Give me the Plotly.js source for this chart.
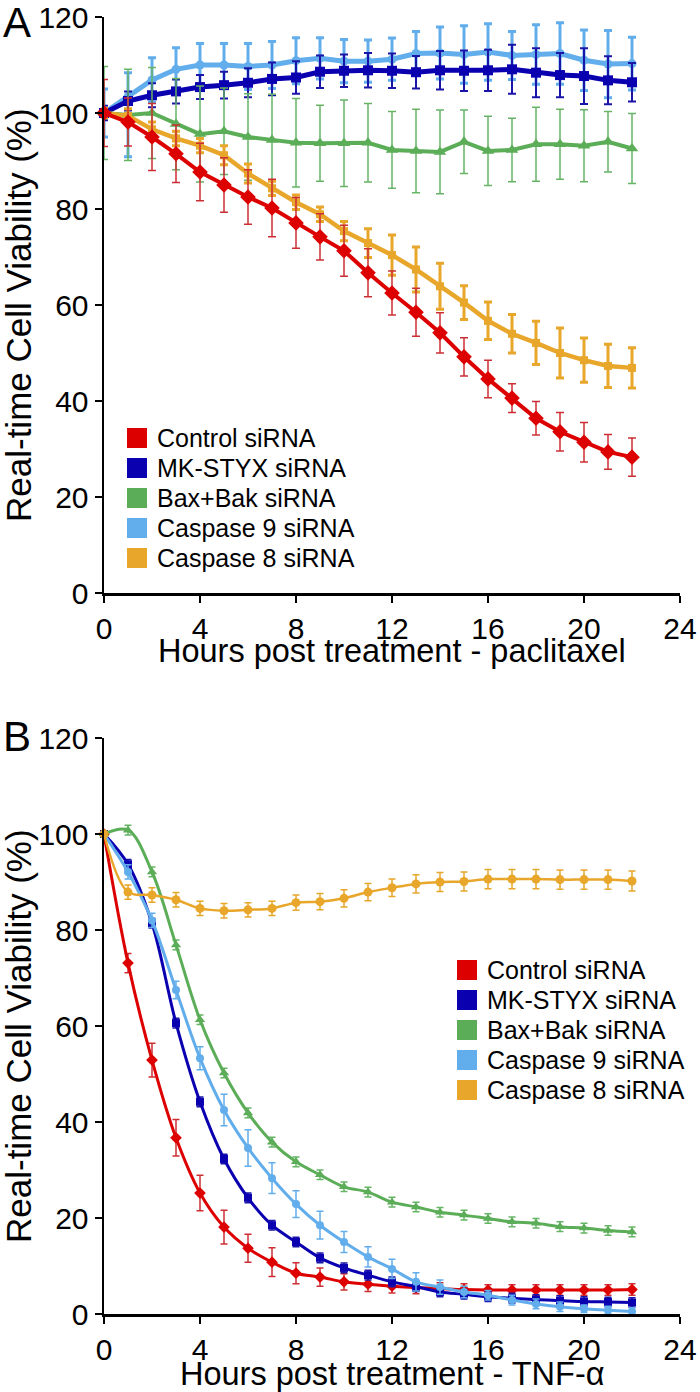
<!DOCTYPE html>
<html>
<head>
<meta charset="utf-8">
<script src="https://cdn.plot.ly/plotly-3.0.1.min.js"></script>
<style>
  html, body { margin: 0; padding: 0; background: #fff; }
  #chart { width: 700px; height: 1392px; }
</style>
</head>
<body>
<div id="chart"></div>
<script>
const hours = [0, 1, 2, 3, 4, 5, 6, 7, 8, 9, 10, 11, 12, 13, 14, 15, 16, 17, 18, 19, 20, 21, 22];
const seriesNames = ['Control siRNA', 'MK-STYX siRNA', 'Bax+Bak siRNA', 'Caspase 9 siRNA', 'Caspase 8 siRNA'];
const xTitles = ['Hours post treatment - paclitaxel', 'Hours post treatment - TNF-α'];
const yTitle = 'Real-time Cell Viability (%)';
const panelLabels = ['A', 'B'];

// panel A - paclitaxel
const ctrlA = [100, 98.1, 95.0, 91.5, 87.7, 85.0, 82.5, 80.2, 77.1, 74.2, 71.3, 66.7, 62.5, 58.5, 54.2, 49.2, 44.6, 40.6, 36.4, 33.6, 31.4, 29.4, 28.3];
const ctrlAErr = [7, 5, 7, 6, 6, 5.7, 5.7, 6, 5.3, 4.8, 5.3, 5, 4.6, 5, 4.2, 4, 3.9, 3, 3.5, 4, 4.1, 3.6, 4];
const mkA = [100, 102.5, 103.7, 104.5, 105.4, 105.8, 106.3, 107.1, 107.4, 108.6, 108.8, 108.9, 108.8, 108.5, 108.9, 108.8, 108.9, 109.1, 108.4, 107.9, 107.7, 106.8, 106.4];
const mkAErr = [1.5, 2, 2.5, 2.5, 2.5, 2.8, 3, 3.4, 3.4, 3.4, 3.4, 3.6, 3.6, 3.4, 4, 4.2, 4.3, 5.1, 5.1, 4.6, 5.8, 5, 4];
const baxA = [100, 99.6, 100, 97.7, 95.6, 96.2, 95, 94.4, 93.8, 93.7, 93.7, 93.8, 92.3, 92.1, 91.9, 94, 92.1, 92.3, 93.5, 93.5, 93.2, 94, 92.6];
const baxAErr = [9.7, 9.5, 9.5, 9.5, 10, 9, 9, 9.5, 9.2, 7.9, 9, 8.2, 8, 8.7, 8.7, 6.6, 7.2, 6.6, 7.7, 7.3, 7.5, 6.3, 7.3];
const casp9A = [100, 103.4, 106.9, 109.1, 110, 110, 109.7, 110, 110.9, 111.4, 110.8, 110.8, 111.2, 112.4, 112.5, 112.2, 112.7, 112, 112.2, 112.4, 111, 110.2, 110.3];
const casp9AErr = [5, 5, 4.6, 4.5, 4.5, 4.5, 4.8, 4.9, 4.8, 4.3, 4.5, 4.4, 4.4, 4.6, 5.4, 6, 5.9, 5, 6.2, 6.4, 6.3, 7, 5.5];
const casp9AErrLow = [5, 12.5, 4.6, 4.5, 4.5, 4.5, 4.8, 4.9, 4.8, 4.3, 4.5, 4.4, 4.4, 4.6, 5.4, 6, 5.9, 5, 6.2, 6.4, 6.3, 7, 5.5];
const casp8A = [100, 99.4, 96.6, 94.7, 93.2, 91.2, 87.4, 84.3, 81.4, 78.9, 75.4, 72.9, 70.4, 67.4, 63.9, 60.5, 56.7, 54, 52.1, 50, 48.5, 47.3, 46.9];
const casp8AErr = [1, 1.5, 1.5, 1.5, 1.5, 2, 2, 1.5, 1.5, 1.5, 2, 3, 4.2, 4.7, 4.8, 3.5, 3.9, 4, 4.5, 5.2, 4.6, 4.5, 4.2];

// panel B - TNF-alpha
const ctrlB = [100, 73.1, 52.9, 36.7, 25.2, 18.1, 13.7, 10.8, 8.5, 7.7, 6.7, 6.2, 5.8, 5.5, 5.3, 5.1, 5.0, 5.0, 5.0, 5.0, 5.0, 5.0, 5.1];
const ctrlBErr = [0.5, 2, 3.5, 3.8, 3.7, 3.5, 2.9, 3, 2.2, 1.9, 1.7, 1.5, 1.4, 1.3, 1.2, 1.2, 1.1, 1.1, 1.1, 1.1, 1.1, 1.1, 1.2];
const mkB = [100, 93.7, 81.4, 60.6, 44.2, 32.3, 24.2, 18.5, 15, 11.7, 9.6, 8.1, 6.7, 5.7, 4.6, 4.1, 3.6, 3.3, 3.0, 2.8, 2.6, 2.5, 2.4];
const mkBErr = [0.5, 1, 1, 1, 1, 1, 1, 1, 1, 1, 1, 1, 1, 1, 1, 1, 1, 1, 1, 1, 1, 1, 1];
const baxB = [100, 100.8, 92.1, 76.9, 61.3, 50.2, 41.9, 35.8, 31.7, 29, 26.5, 25.4, 23.3, 22.3, 21.2, 20.6, 19.9, 19.2, 18.9, 18.2, 17.9, 17.4, 17.1];
const baxBErr = [0.5, 1, 1, 1, 1, 1, 1, 1, 1, 1, 1, 1, 1, 1, 1, 1, 1, 1, 1, 1, 1, 1, 1];
const casp9B = [100, 92.1, 82, 67.5, 53.3, 42.5, 34.6, 28.3, 22.9, 18.5, 15, 11.9, 9.4, 6.7, 5.6, 4.6, 3.9, 2.9, 2.1, 1.5, 1.1, 0.8, 0.5];
const casp9BErr = [0.5, 1.5, 1.5, 1.8, 2.4, 3.3, 3.8, 3.2, 2.8, 2.9, 2.2, 2.1, 2, 1.9, 1.5, 1.2, 1, 1, 1, 1, 0.8, 0.8, 0.8];
const casp8B = [100, 87.9, 87.3, 86.3, 84.5, 84, 84.2, 84.5, 85.7, 85.9, 86.6, 87.9, 88.8, 89.6, 90, 90.1, 90.6, 90.6, 90.6, 90.5, 90.5, 90.5, 90.2];
const casp8BErr = [0.5, 1.5, 1.5, 1.5, 1.5, 1.5, 1.5, 1.5, 1.6, 1.7, 1.8, 1.8, 1.8, 1.9, 2, 2, 2, 2, 2, 2, 2, 2, 2.1];

const colors = ['#DD0000', '#0B00B0', '#5BAD57', '#62ADEB', '#E8A62A'];
const errColors = ['#CC2F33', '#1A14A8', '#66B466', '#62ADEB', '#E8A62A'];

// page geometry (pixels), used to place the hand-made legends and titles
const W = 700, H = 1392;
const M = { l: 104, r: 20, t: 17, b: 78 };
const plotW = W - M.l - M.r, plotH = H - M.t - M.b;
function px2x(px) { return (px - M.l) / plotW; }
function px2y(py) { return (H - M.b - py) / plotH; }

function series(i, y, err, errLow, opts) {
    const errorY = { type: 'data', array: err, visible: true, color: errColors[i],
                     thickness: opts.errWidth, width: opts.cap };
    if (errLow) {
        errorY.symmetric = false;
        errorY.arrayminus = errLow;
    }
    return {
        type: 'scatter',
        mode: 'lines+markers',
        x: hours,
        y: y,
        xaxis: opts.xaxis,
        yaxis: opts.yaxis,
        name: seriesNames[i],
        showlegend: false,
        cliponaxis: false,
        line: { color: colors[i], width: opts.lineWidth, shape: opts.shape || 'linear', smoothing: 1 },
        marker: { color: colors[i], symbol: opts.symbol, size: opts.size },
        error_y: errorY
    };
}

const a = { xaxis: 'x', yaxis: 'y' };
const b = { xaxis: 'x2', yaxis: 'y2', shape: 'spline' };

const traces = [
    series(3, casp9A, casp9AErr, casp9AErrLow, Object.assign({ symbol: 'circle', size: 9, lineWidth: 5, errWidth: 3, cap: 4 }, a)),
    series(1, mkA, mkAErr, null, Object.assign({ symbol: 'square', size: 10, lineWidth: 5, errWidth: 2, cap: 4 }, a)),
    series(2, baxA, baxAErr, null, Object.assign({ symbol: 'triangle-up', size: 11, lineWidth: 4, errWidth: 1.5, cap: 4 }, a)),
    series(4, casp8A, casp8AErr, null, Object.assign({ symbol: 'square', size: 8, lineWidth: 4.5, errWidth: 3, cap: 4 }, a)),
    series(0, ctrlA, ctrlAErr, null, Object.assign({ symbol: 'diamond', size: 12, lineWidth: 4, errWidth: 1.5, cap: 4 }, a)),

    series(0, ctrlB, ctrlBErr, null, Object.assign({ symbol: 'diamond', size: 9, lineWidth: 3, errWidth: 1.5, cap: 3.5 }, b)),
    series(1, mkB, mkBErr, null, Object.assign({ symbol: 'square', size: 8, lineWidth: 3, errWidth: 1.5, cap: 3.5 }, b)),
    series(3, casp9B, casp9BErr, null, Object.assign({ symbol: 'circle', size: 8, lineWidth: 3, errWidth: 1.5, cap: 3.5 }, b)),
    series(2, baxB, baxBErr, null, Object.assign({ symbol: 'triangle-up', size: 9, lineWidth: 3, errWidth: 1.5, cap: 3.5 }, b)),
    series(4, casp8B, casp8BErr, null, Object.assign({ symbol: 'circle', size: 9, lineWidth: 2.5, errWidth: 1.5, cap: 3.5 }, b))
];

const fontFamily = '"Liberation Sans", Arial, Helvetica, sans-serif';

function xAxis(anchor) {
    return {
        anchor: anchor, domain: [0, 1], range: [0, 24], dtick: 4, tick0: 0,
        showline: true, linewidth: 2.5, linecolor: '#000',
        ticks: 'outside', ticklen: 7, tickwidth: 2.5, tickcolor: '#000',
        showgrid: false, zeroline: false, fixedrange: true,
        tickfont: { size: 30, color: '#000' }
    };
}

function yAxis(anchor, domain) {
    return {
        anchor: anchor, domain: domain, range: [0, 120], dtick: 20, tick0: 0,
        showline: true, linewidth: 2.5, linecolor: '#000',
        ticks: 'outside', ticklen: 7, tickwidth: 2.5, tickcolor: '#000',
        showgrid: false, zeroline: false, fixedrange: true,
        tickfont: { size: 30, color: '#000' }
    };
}

const shapes = [];
const annotations = [];

// legend boxes: square swatch + label, one per series
function addLegend(swatchLeft, firstRow) {
    seriesNames.forEach(function(name, i) {
        const cy = firstRow + 30 * i;
        shapes.push({
            type: 'rect', xref: 'paper', yref: 'paper',
            x0: px2x(swatchLeft), x1: px2x(swatchLeft + 20),
            y0: px2y(cy + 10), y1: px2y(cy - 10),
            fillcolor: colors[i], line: { width: 0 }
        });
        annotations.push({
            text: name, xref: 'paper', yref: 'paper',
            x: px2x(swatchLeft + 28), y: px2y(cy), xanchor: 'left', yanchor: 'middle',
            showarrow: false, font: { size: 25, color: '#000' }
        });
    });
}
addLegend(127, 438);
addLegend(457, 970);

// panel letters and axis titles
[23, 736].forEach(function(cy, k) {
    annotations.push({
        text: panelLabels[k], xref: 'paper', yref: 'paper',
        x: px2x(1), y: px2y(cy), xanchor: 'left', yanchor: 'middle',
        showarrow: false, font: { size: 42, color: '#000' }
    });
});
[651, 1374].forEach(function(cy, k) {
    annotations.push({
        text: xTitles[k], xref: 'paper', yref: 'paper',
        x: px2x(392), y: px2y(cy), xanchor: 'center', yanchor: 'middle',
        showarrow: false, font: { size: 32.5, color: '#000' }
    });
});
[315, 1036].forEach(function(cy) {
    annotations.push({
        text: yTitle, xref: 'paper', yref: 'paper', textangle: -90,
        x: px2x(18), y: px2y(cy), xanchor: 'center', yanchor: 'middle',
        showarrow: false, font: { size: 35, color: '#000' }
    });
});

const layout = {
    width: W, height: H,
    margin: M,
    paper_bgcolor: '#fff', plot_bgcolor: '#fff',
    font: { family: fontFamily, color: '#000' },
    xaxis: xAxis('y'),
    yaxis: yAxis('x', [px2y(593), 1]),
    xaxis2: xAxis('y2'),
    yaxis2: yAxis('x2', [0, px2y(738)]),
    shapes: shapes,
    annotations: annotations,
    showlegend: false
};

Plotly.newPlot('chart', traces, layout, { displayModeBar: false, staticPlot: true });
</script>
</body>
</html>
